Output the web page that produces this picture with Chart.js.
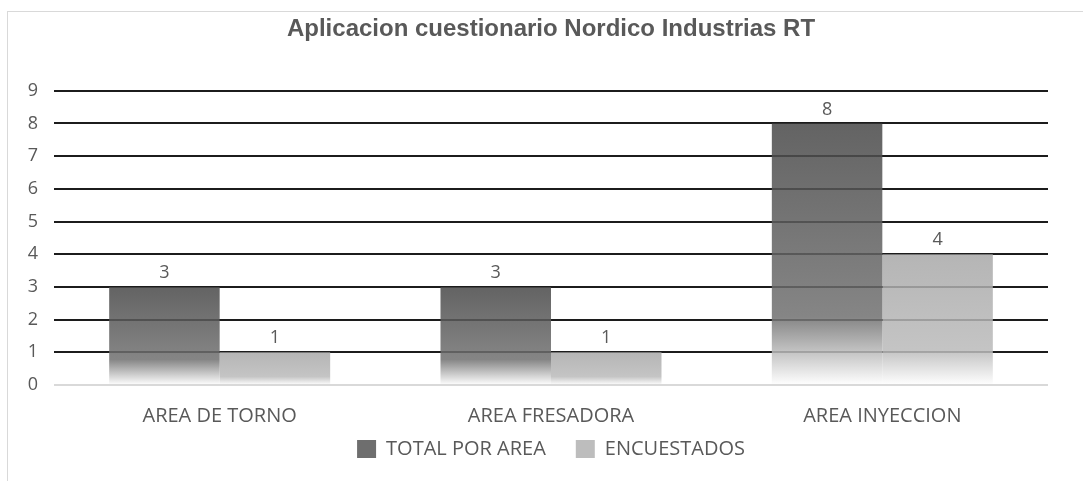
<!DOCTYPE html>
<html>
<head>
<meta charset="utf-8">
<script src="https://cdn.jsdelivr.net/npm/chart.js@4/dist/chart.umd.min.js"></script>
<style>
    html, body { margin: 0; padding: 0; background: #fff; }
    #wrap { position: relative; width: 1083px; height: 481px; }
    #frame {
        position: absolute; left: 7px; top: 11px; width: 1100px; height: 500px;
        border-left: 1px solid #d9d9d9; border-top: 1px solid #d9d9d9;
    }
    #grafico { position: absolute; left: 0; top: 0; }
</style>
</head>
<body>
<div id="wrap">
    <div id="frame"></div>
    <canvas id="grafico" width="1083" height="481"></canvas>
</div>
<script>
// Datos del gráfico
const areas = ['AREA DE TORNO', 'AREA FRESADORA', 'AREA INYECCION'];
const totalPorArea = [3, 3, 8];
const encuestados = [1, 1, 4];
const ticksY = [0, 1, 2, 3, 4, 5, 6, 7, 8, 9];

const textoGris = '#595959';
const fuente = "'Open Sans', 'DejaVu Sans', sans-serif";

/**
 * Devuelve un degradado vertical por barra (oscuro arriba, blanco abajo)
 */
function degradado(colores) {
    return function(context) {
        const chart = context.chart;
        if (context.type !== 'data' || !chart.chartArea) {
            return colores[1];
        }
        const y = chart.scales.y;
        const top = y.getPixelForValue(context.raw);
        const base = y.getPixelForValue(0);
        if (base - top < 1) return colores[1];
        const g = chart.ctx.createLinearGradient(0, top, 0, base);
        g.addColorStop(0, colores[0]);
        g.addColorStop(0.74, colores[1]);
        g.addColorStop(1, colores[2]);
        return g;
    };
}

// Etiquetas de valor encima de cada barra
const etiquetasValor = {
    id: 'etiquetasValor',
    afterDatasetsDraw(chart) {
        const ctx = chart.ctx;
        ctx.save();
        ctx.font = '18px ' + fuente;
        ctx.fillStyle = textoGris;
        ctx.textAlign = 'center';
        ctx.textBaseline = 'bottom';
        chart.data.datasets.forEach((ds, i) => {
            chart.getDatasetMeta(i).data.forEach((bar, j) => {
                ctx.fillText(ds.data[j], bar.x, bar.y - 5);
            });
        });
        ctx.restore();
    }
};

new Chart(document.getElementById('grafico'), {
    type: 'bar',
    data: {
        labels: areas,
        datasets: [
            {
                label: 'TOTAL POR AREA',
                data: totalPorArea,
                backgroundColor: degradado(['rgba(72,72,72,0.85)', 'rgba(112,112,112,0.85)', 'rgba(255,255,255,0.85)']),
                legendColor: '#6e6e6e'
            },
            {
                label: 'ENCUESTADOS',
                data: encuestados,
                backgroundColor: degradado(['rgba(168,168,168,0.85)', 'rgba(186,186,186,0.85)', 'rgba(255,255,255,0.85)']),
                legendColor: '#bdbdbd'
            }
        ]
    },
    options: {
        responsive: false,
        animation: false,
        categoryPercentage: 0.667,
        barPercentage: 1.0,
        layout: {
            padding: { left: 8, right: 35, top: 15, bottom: 12 }
        },
        plugins: {
            title: {
                display: true,
                fullSize: false,
                text: 'Aplicacion cuestionario Nordico Industrias RT',
                color: textoGris,
                font: { family: "'Liberation Sans', Arial, sans-serif", size: 24, weight: 'bold' },
                padding: { top: 0, bottom: 47 }
            },
            legend: {
                position: 'bottom',
                fullSize: false,
                labels: {
                    color: textoGris,
                    font: { family: fuente, size: 20 },
                    boxWidth: 19,
                    boxHeight: 18,
                    padding: 4,
                    generateLabels(chart) {
                        const n = chart.data.datasets.length;
                        return chart.data.datasets.map((ds, i) => ({
                            // espacio extra entre elementos de la leyenda
                            text: i < n - 1 ? ds.label + '     ' : ds.label,
                            fillStyle: ds.legendColor,
                            strokeStyle: ds.legendColor,
                            lineWidth: 0,
                            fontColor: textoGris,
                            datasetIndex: i
                        }));
                    }
                }
            },
            tooltip: { enabled: false }
        },
        scales: {
            x: {
                afterFit(scale) { scale.height = 50; },
                grid: { display: false, drawTicks: false },
                border: { display: false },
                ticks: {
                    color: textoGris,
                    font: { family: fuente, size: 20, lineHeight: 1 },
                    padding: 21
                }
            },
            y: {
                min: 0,
                max: 9,
                afterFit(scale) { scale.width = 46; },
                afterBuildTicks(scale) { scale.ticks = ticksY.map(v => ({ value: v })); },
                border: { display: false },
                grid: {
                    drawTicks: false,
                    lineWidth: 2,
                    color: (c) => c.tick && c.tick.value === 0 ? '#d9d9d9' : '#1c1c1c'
                },
                ticks: {
                    color: textoGris,
                    font: { family: fuente, size: 18 },
                    padding: 16
                }
            }
        }
    },
    plugins: [etiquetasValor]
});
</script>
</body>
</html>
